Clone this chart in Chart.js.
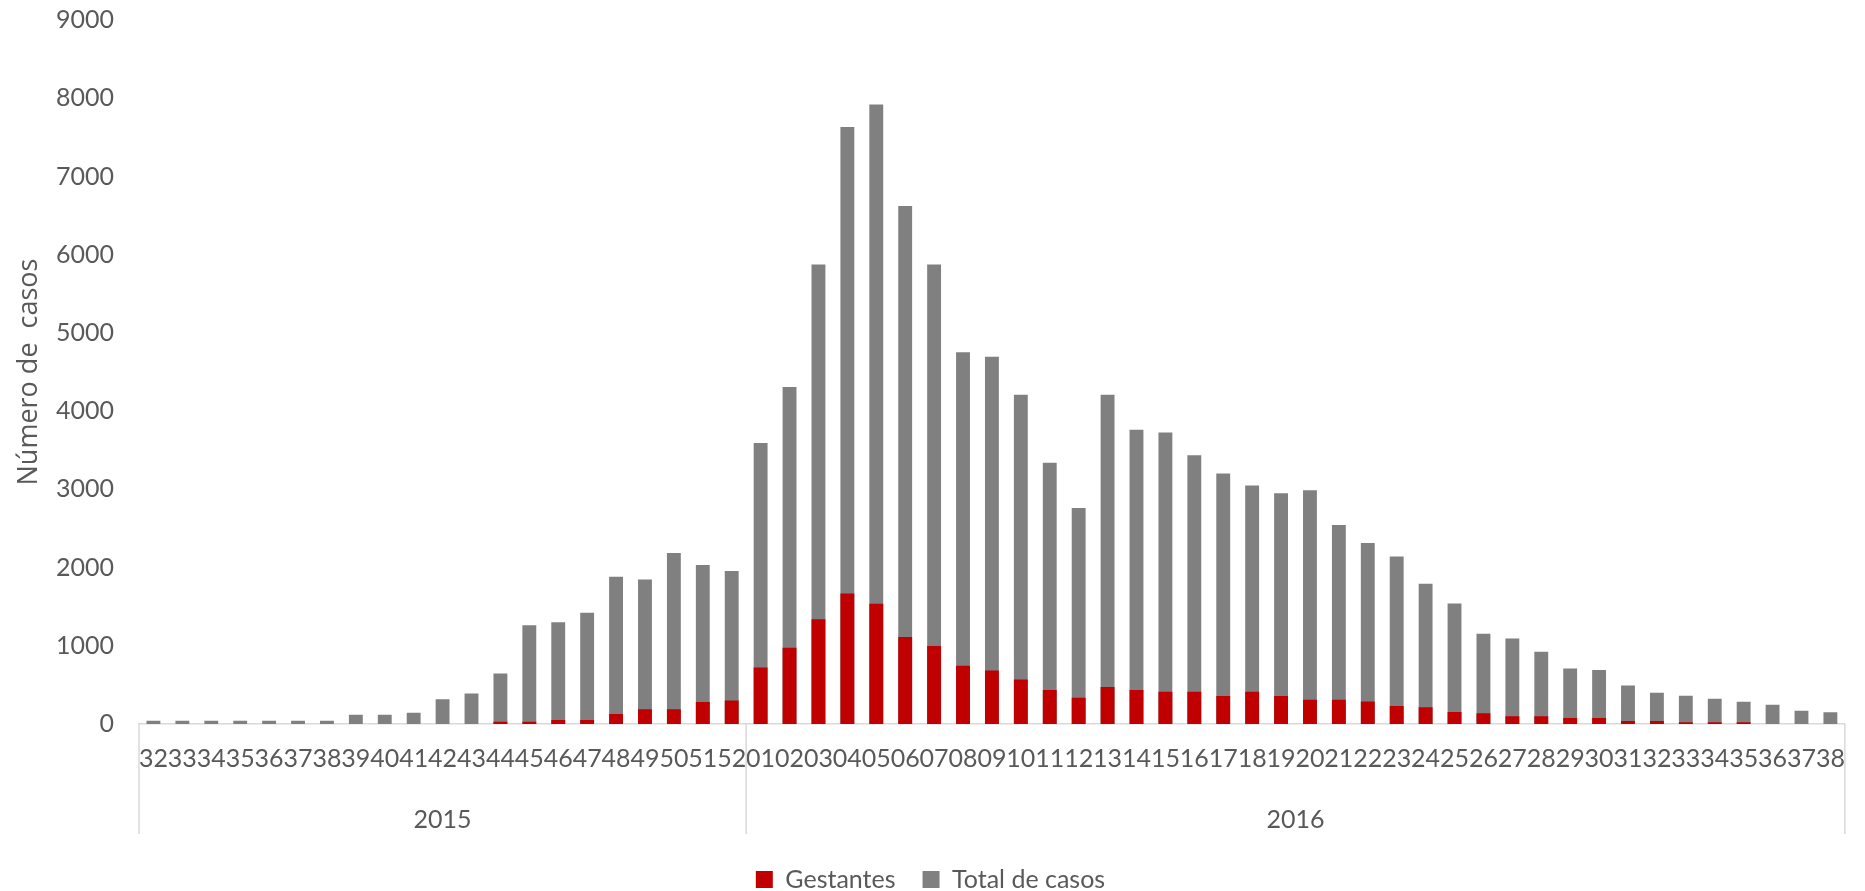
<!DOCTYPE html>
<html lang="es">
<head>
<meta charset="utf-8">
<title>Casos por semana epidemiológica</title>
<script src="https://cdn.jsdelivr.net/npm/chart.js@4/dist/chart.umd.min.js"></script>
<style>
  html, body { margin: 0; padding: 0; background: #fff; }
  #contenedor { width: 1865px; height: 891px; }
</style>
</head>
<body>
<div id="contenedor"><canvas id="grafico"></canvas></div>
<script>
// semanas epidemiológicas por año
const semanas2015 = ['32','33','34','35','36','37','38','39','40','41','42','43','44','45','46','47','48','49','50','51','52']
const semanas2016 = ['01','02','03','04','05','06','07','08','09','10','11','12','13','14','15','16','17','18','19',
                     '20','21','22','23','24','25','26','27','28','29','30','31','32','33','34','35','36','37','38']

const totalCasos2015 = [42, 42, 40, 40, 40, 40, 42, 119, 119, 145, 315, 391, 647, 1264, 1302, 1421, 1881, 1847, 2187, 2034, 1957]
const totalCasos2016 = [3592, 4308, 5875, 7632, 7920, 6623, 5875, 4751, 4695, 4210, 3341, 2760, 4210, 3763, 3727, 3435, 3201, 3050, 2950,
                        2988, 2545, 2315, 2141, 1792, 1540, 1153, 1094, 923, 710, 690, 493, 400, 361, 323, 285, 247, 170, 149]

const gestantes2015 = [0, 0, 0, 0, 0, 0, 0, 0, 0, 0, 0, 0, 30, 30, 51, 51, 128, 187, 187, 281, 302]
const gestantes2016 = [723, 974, 1340, 1668, 1536, 1111, 996, 745, 685, 570, 434, 336, 472, 434, 413, 413, 357, 413, 357,
                       310, 310, 289, 230, 213, 153, 136, 98, 98, 77, 77, 38, 38, 21, 21, 21, 0, 0, 0]

const grupos = [
	{ anio: '2015', semanas: semanas2015 },
	{ anio: '2016', semanas: semanas2016 }
]

const etiquetas = [...semanas2015, ...semanas2016]
const totalCasos = [...totalCasos2015, ...totalCasos2016]
const gestantes = [...gestantes2015, ...gestantes2016]

const colorTexto = '#595959'
const colorLinea = '#d9d9d9'

// segundo nivel del eje x: separadores y años debajo de las semanas
const ejeAnios = {
	id: 'ejeAnios',
	afterDraw(chart) {
		const { ctx, scales: { x } } = chart
		const ancho = (x.right - x.left) / etiquetas.length
		const y0 = x.top
		let inicio = 0

		ctx.save()
		ctx.strokeStyle = colorLinea
		ctx.lineWidth = 1.5
		ctx.fillStyle = colorTexto
		ctx.font = '25px Lato'
		ctx.textAlign = 'center'
		ctx.textBaseline = 'middle'

		grupos.forEach(({ anio, semanas }, i) => {
			const izq = x.getPixelForValue(inicio) - ancho / 2
			const der = x.getPixelForValue(inicio + semanas.length - 1) + ancho / 2
			ctx.beginPath()
			ctx.moveTo(izq, y0)
			ctx.lineTo(izq, y0 + 110)
			if (i === grupos.length - 1) {
				ctx.moveTo(der, y0)
				ctx.lineTo(der, y0 + 110)
			}
			ctx.stroke()
			ctx.fillText(anio, (izq + der) / 2, y0 + 96)
			inicio += semanas.length
		})
		ctx.restore()
	}
}

const mostrarGrafico = () => {
	const container = document.getElementById('grafico').getContext('2d')

	new Chart(container, {
		type: 'bar',
		data: {
			labels: etiquetas,
			datasets: [{
				label: 'Gestantes',
				data: gestantes,
				backgroundColor: '#c00000',
				barPercentage: 0.48,
				categoryPercentage: 1
			}, {
				label: 'Total de casos',
				data: totalCasos,
				backgroundColor: '#808080',
				barPercentage: 0.48,
				categoryPercentage: 1
			}]
		},
		options: {
			responsive: true,
			maintainAspectRatio: false,
			animation: false,
			layout: {
				padding: { top: 20, right: 13, left: 9, bottom: -11 }
			},
			plugins: {
				tooltip: { enabled: false },
				legend: {
					position: 'bottom',
					labels: {
						color: colorTexto,
						font: { family: 'Lato', size: 25 },
						boxWidth: 17,
						boxHeight: 17,
						padding: 27
					}
				}
			},
			scales: {
				x: {
					stacked: true,
					grid: { display: false, drawTicks: false },
					border: { display: true, color: colorLinea, width: 1.5 },
					ticks: {
						color: colorTexto,
						font: { family: 'Lato', size: 25 },
						autoSkip: false,
						maxRotation: 0,
						minRotation: 0,
						padding: 20
					},
					afterFit: (scale) => { scale.height = 116 }
				},
				y: {
					stacked: false,
					min: 0,
					max: 9000,
					grid: { display: false, drawTicks: false },
					border: { display: false },
					ticks: {
						stepSize: 1000,
						color: colorTexto,
						font: { family: 'Lato', size: 25 },
						padding: 25,
						callback: (valor) => String(valor)
					},
					title: {
						display: true,
						text: 'Número de  casos',
						color: colorTexto,
						font: { family: 'Open Sans', size: 27 },
						padding: { top: 4, bottom: 0 }
					},
					afterFit: (scale) => {
						scale.width = 130
						scale.paddingTop = 0
						scale.paddingBottom = 0
					}
				}
			}
		},
		plugins: [ejeAnios]
	})
}

mostrarGrafico()
</script>
</body>
</html>
